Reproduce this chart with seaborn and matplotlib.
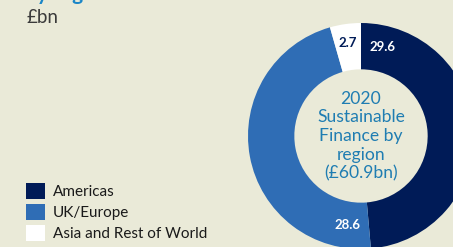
import matplotlib
matplotlib.use("Agg")
import matplotlib.pyplot as plt
from matplotlib.patches import Patch
import seaborn as sns

# Dados
regions = ["Americas", "UK/Europe", "Asia and Rest of World"]
values = [29.6, 28.6, 2.7]
value_labels = ["29.6", "28.6", "2.7"]
colors = ["#001B57", "#2F6DB5", "#FFFFFF"]
centre_text = "2020\nSustainable\nFinance by\nregion\n(£60.9bn)"

bg = "#EAEAD8"
sns.set_theme(style="white")
plt.rcParams["font.family"] = ["Lato", "DejaVu Sans"]

fig = plt.figure(figsize=(4.53, 2.47), dpi=100, facecolor=bg)

# titulo cortado no topo
fig.text(0.055, 1.0, "by region", fontsize=15, fontweight="bold", color="#1A86C7", va="baseline")
fig.text(0.058, 0.965, "£bn", fontsize=13.5, color="#3A3A3A", va="top")

# rosquinha (centro ~ 361,136 px, raio 113 px)
W, H = 453, 247
cx, cy, R = 361, 136, 113
ax = fig.add_axes([(cx - R) / W, (H - cy - R) / H, 2 * R / W, 2 * R / H])
ax.set_facecolor(bg)
wedges, _ = ax.pie(values, colors=colors, startangle=90, counterclock=False,
                   radius=1, wedgeprops=dict(width=0.41, edgecolor="none"))
ax.set_xlim(-1, 1)
ax.set_ylim(-1, 1)
ax.axis("off")

ax.text(0.0, 0.0, centre_text, ha="center", va="center", fontsize=12.6,
        color="#1F7DB2", linespacing=1.2)

label_pos = [(0.19, 0.79), (-0.12, -0.79), (-0.12, 0.82)]
label_col = ["white", "white", "#001B57"]
for lbl, (x, y), c in zip(value_labels, label_pos, label_col):
    ax.text(x, y, lbl, ha="center", va="center", fontsize=9.5, fontweight="bold", color=c)

handles = [Patch(facecolor=c, edgecolor="none") for c in colors]
leg = fig.legend(handles, regions, loc="upper left", bbox_to_anchor=(0.057, 0.259),
                 frameon=False, fontsize=11, handlelength=1.25, handleheight=1.25,
                 handletextpad=0.5, labelspacing=0.3, borderaxespad=0, borderpad=0)
for t in leg.get_texts():
    t.set_color("#1A1A1A")

fig.savefig("out.png", dpi=100, facecolor=bg)
